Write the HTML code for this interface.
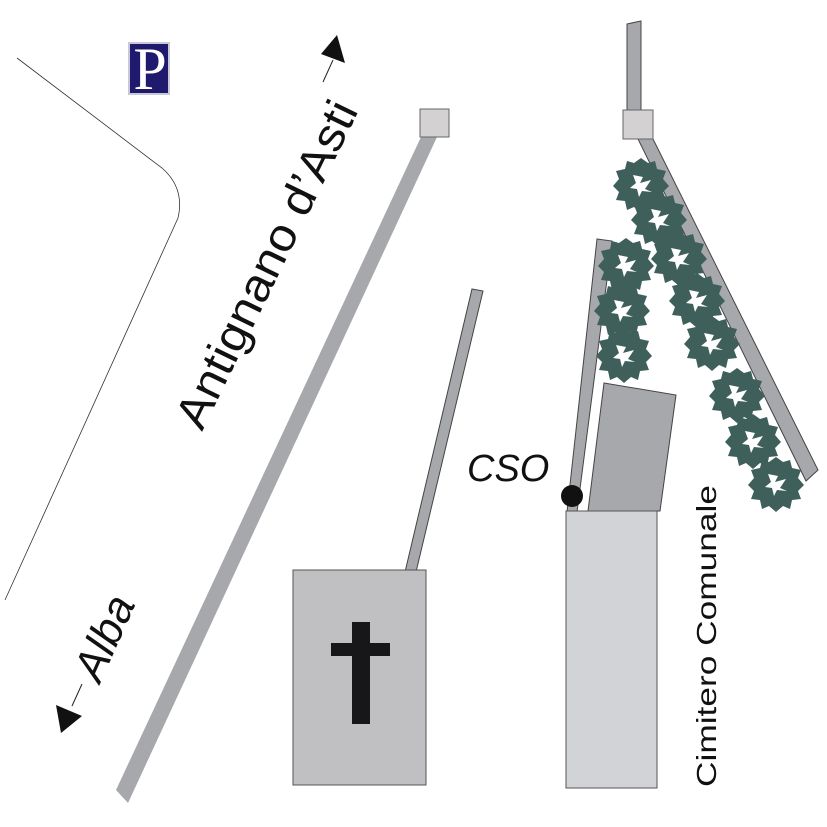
<!DOCTYPE html>
<html><head><style>html,body{margin:0;padding:0;background:#fff}svg{display:block}</style></head>
<body>
<svg width="827" height="827" viewBox="0 0 827 827" xmlns="http://www.w3.org/2000/svg">
<defs>
<g id="tree">
<polygon fill="#3f5f5b" points="0,-27 7,-22 14,-24 16,-16 25,-14 22,-6 28,1 22,7 25,15 16,16 14,25 7,22 0,28 -7,22 -14,25 -16,16 -25,15 -22,7 -28,1 -22,-6 -25,-14 -16,-16 -14,-24 -7,-22"/>
<polygon fill="#fff" points="-8,-10 2,-8 -1,-2 10,-5 4,4 11,7 1,6 -2,12 -4,4 -11,3 -5,-2"/>
</g>
</defs>
<path d="M17,58 L162,168 Q185,188 178,218 L5,600" fill="none" stroke="#333" stroke-width="0.8"/>
<rect x="128" y="42" width="42" height="53" fill="#c8c8d8"/>
<rect x="130" y="44" width="38" height="49" fill="#1f1a6e"/>
<text x="150" y="89" font-family="Liberation Serif, serif" font-size="60" fill="#fff" text-anchor="middle">P</text>
<polygon points="421,137 437,137 128,803 116,790" fill="#a7a8ab"/>
<rect x="420" y="109" width="29" height="28" fill="#d3d1d1" stroke="#666" stroke-width="1"/>
<line x1="323" y1="82" x2="333" y2="60" stroke="#222" stroke-width="1"/>
<polygon points="337,35 345,63 321,54" fill="#111"/>
<text transform="translate(202,432) rotate(-64)" font-family="Liberation Sans, sans-serif" font-size="46" fill="#111" textLength="358" lengthAdjust="spacingAndGlyphs">Antignano d’Asti</text>
<text transform="translate(100,684) rotate(-66)" font-family="Liberation Sans, sans-serif" font-size="44" font-style="italic" fill="#111">Alba</text>
<line x1="82" y1="684" x2="72" y2="706" stroke="#222" stroke-width="1"/>
<polygon points="61,733 56,705 82,716" fill="#111"/>
<polygon points="472,289 483,291 416,572 405,572" fill="#a7a8ab" stroke="#444" stroke-width="1"/>
<rect x="293" y="570" width="133" height="215" fill="#c0bfc1" stroke="#555" stroke-width="1"/>
<polygon points="352,622 370,622 370,724 352,724" fill="#17171a"/>
<rect x="331" y="643" width="59" height="13" fill="#17171a"/>
<polygon points="627,24 641,21 641,110 627,110" fill="#a7a8ab" stroke="#444" stroke-width="1"/>
<polygon points="638,139 653,139 818,470 806,481" fill="#a7a8ab" stroke="#444" stroke-width="1"/>
<rect x="623" y="110" width="30" height="29" fill="#d3d1d1" stroke="#666" stroke-width="1"/>
<polygon points="597,239 612,241 577,512 567,512" fill="#a7a8ab" stroke="#444" stroke-width="1"/>
<polygon points="604,383 676,395 660,511 588,511" fill="#a7a8ab" stroke="#444" stroke-width="1"/>
<rect x="566" y="511" width="91" height="277" fill="#d2d3d6" stroke="#555" stroke-width="1"/>
<circle cx="572" cy="496" r="11" fill="#111"/>
<text x="467" y="481" font-family="Liberation Sans, sans-serif" font-size="38" font-style="italic" fill="#111">CSO</text>
<text transform="translate(716,787) rotate(-90)" font-family="Liberation Sans, sans-serif" font-size="28" fill="#111" textLength="302" lengthAdjust="spacingAndGlyphs">Cimitero Comunale</text>
<use href="#tree" x="641" y="185"/>
<use href="#tree" x="659" y="219"/>
<use href="#tree" x="679" y="258"/>
<use href="#tree" x="697" y="300"/>
<use href="#tree" x="712" y="343"/>
<use href="#tree" x="737" y="395"/>
<use href="#tree" x="753" y="441"/>
<use href="#tree" x="776" y="484"/>
<use href="#tree" x="626" y="265"/>
<use href="#tree" x="622" y="310"/>
<use href="#tree" x="624" y="355"/>
</svg>
</body></html>
